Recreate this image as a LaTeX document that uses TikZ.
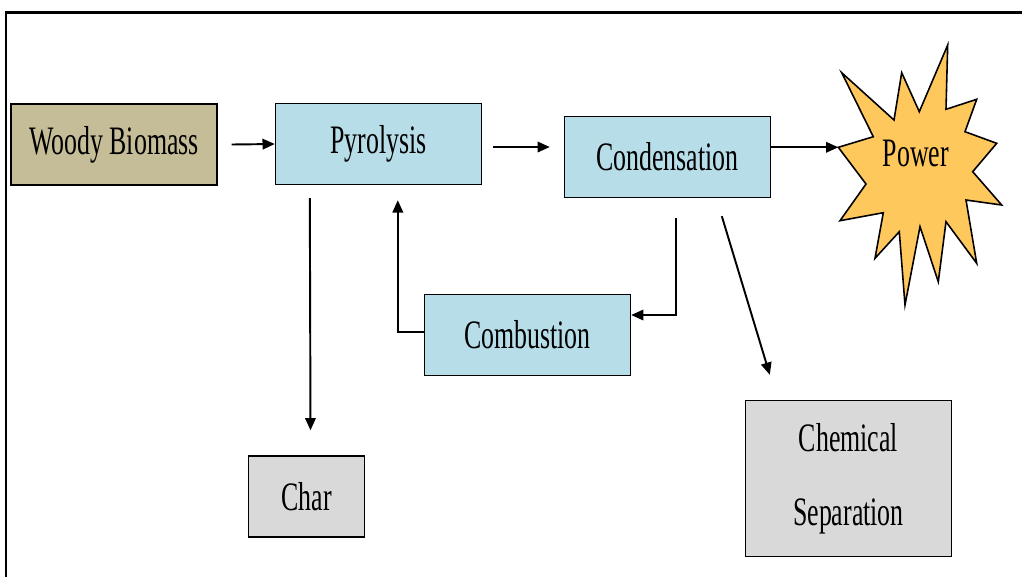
\documentclass[tikz,border=0pt]{standalone}
\usepackage{fontspec}
\newfontfamily\boxfont[FakeStretch=0.64]{Liberation Serif}
\usetikzlibrary{calc, arrows.meta}
\definecolor{woodtan}{HTML}{C4BD97}
\definecolor{procblue}{HTML}{B7DDE8}
\definecolor{outgray}{HTML}{D9D9D9}
\definecolor{powergold}{HTML}{FFC85C}

\begin{document}
\begin{tikzpicture}[x=0.02cm, y=-0.02cm, >={Triangle[length=7pt, width=6pt]}]
        \tikzstyle{unit}=[draw, shape=rectangle, line width=0.8pt, inner sep=0pt, minimum width=4.12cm, minimum height=1.62cm, font=\boxfont\fontsize{23}{28}\selectfont]
        \tikzstyle{flow}=[->, line width=1.1pt]

        \useasboundingbox (0,0) rectangle (1022,576);
        \draw[line width=1.7pt] (6,590) -- (6,12) -- (1030,12);

        \node[unit, fill=woodtan](woody) at (114,144.5){Woody Biomass};
        \node[unit, fill=procblue](pyro) at (378.5,144){Pyrolysis};
        \node[unit, fill=procblue](cond) at (667.5,157){Condensation};
        \node[unit, fill=procblue](comb) at (527.5,335){Combustion};
        \node[unit, fill=outgray, minimum width=2.32cm](char) at (306.5,496.5){Char};
        \node[unit, fill=outgray, minimum height=3.12cm, align=center](chem) at (848.5,478.5){Chemical\\[14pt]Separation};

        % power burst
        \draw[fill=powergold, line width=0.9pt] (841.7,72.7) -- (894,120) -- (901.7,72.7) -- (919.3,111.7)
        -- (947.7,45) -- (946,109.3) -- (976.7,99.3) -- (965,131.7) -- (996.7,143.3) -- (972.7,171.7)
        -- (1001.7,205) -- (966,200) -- (976.7,263.3) -- (946,221.7) -- (938.3,281.7) -- (920,226.7)
        -- (905,305) -- (899.3,231.7) -- (875,258.3) -- (883.3,212.7) -- (840,220.7) -- (866,184)
        -- (838.3,147.3) -- (873.3,136.7) -- cycle;
        \coordinate (powertip) at (838.3,147.3);
        \node[font=\boxfont\fontsize{23}{28}\selectfont](power) at (916,153){Power};

        \draw[flow] ($(woody.east)+(14,0)$) -- (pyro.west);
        \draw[flow] ($(pyro.east)+(11,3)$) -- ($(cond.west |- pyro.east)+(-14,3)$);
        \draw[flow] (cond.east |- powertip) -- (powertip);
        \draw[flow] ($(pyro.south west)+(35,13)$) -- ($(char.north)+(4,-25)$);
        \draw[flow] ($(cond.south west)+(112,20)$) |- ($(comb.east)+(0,-20)$);
        \draw[flow] ($(comb.west)+(0,-3)$) -| ($(pyro.south west)+(123,15)$);
        \draw[flow] ($(cond.south west)+(158,18)$) -- ($(chem.north west)+(25,-25)$);

\end{tikzpicture}
\end{document}
